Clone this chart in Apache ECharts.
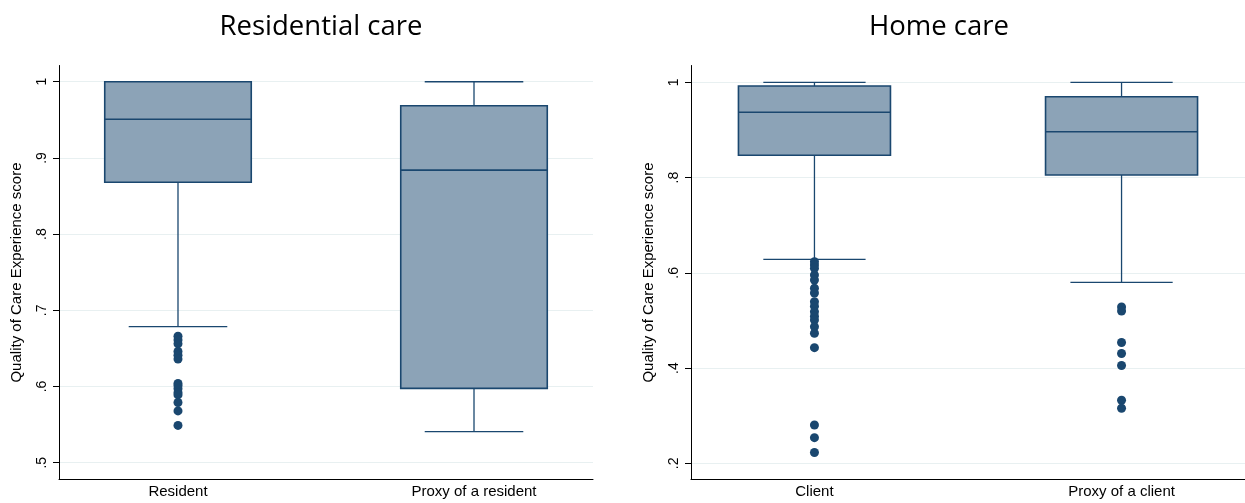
<!DOCTYPE html>
<html>
<head>
<meta charset="utf-8">
<script src="https://cdn.jsdelivr.net/npm/echarts@6/dist/echarts.min.js"></script>
<style>html,body{margin:0;padding:0;background:#fff}#c{width:1245px;height:503px}</style>
</head>
<body>
<div id="c"></div>
<script>
// ---- data ----
var residentialCats = ['Resident', 'Proxy of a resident'];
var homeCats = ['Client', 'Proxy of a client'];
// [min whisker, Q1, median, Q3, max whisker]
var residentBox = [0.6785, 0.868, 0.9507, 1.0, 1.0];
var residentProxyBox = [0.5407, 0.5976, 0.884, 0.9685, 1.0];
var clientBox = [0.6283, 0.8467, 0.937, 0.9922, 1.0];
var clientProxyBox = [0.580, 0.8054, 0.8963, 0.9698, 1.0];
var residentOutliers = [0.666, 0.661, 0.656, 0.646, 0.641, 0.636, 0.604, 0.601, 0.597, 0.592, 0.589, 0.579, 0.568, 0.549];
var residentProxyOutliers = [];
var clientOutliers = [0.6233, 0.6164, 0.6094, 0.5954, 0.5849, 0.5675, 0.5576, 0.5393, 0.530, 0.5183, 0.509, 0.5009, 0.4868, 0.473, 0.4428, 0.2804, 0.2538, 0.2227];
var clientProxyOutliers = [0.5282, 0.5198, 0.4536, 0.4305, 0.4054, 0.3323, 0.3155];
var residentialTicks = [0.5, 0.6, 0.7, 0.8, 0.9, 1];
var homeTicks = [0.2, 0.4, 0.6, 0.8, 1];
var yName = 'Quality of Care Experience score';
var titles = ['Residential care', 'Home care'];

// ---- styles ----
var NAVY = '#1a476f';
var FILL = '#8ca3b7';
var GRIDC = '#e8f0f1';
var FONT = '"Liberation Sans", Arial, sans-serif';

function boxData(boxes) {
  return boxes.map(function (b, i) { return [i + 1].concat(b); });
}
function outlierData(lists) {
  var out = [];
  lists.forEach(function (l, i) { l.forEach(function (v) { out.push([i + 1, v]); }); });
  return out;
}
function renderBox(params, api) {
  var x = api.value(0);
  var lo = api.coord([x, api.value(1)]);
  var q1 = api.coord([x, api.value(2)]);
  var md = api.coord([x, api.value(3)]);
  var q3 = api.coord([x, api.value(4)]);
  var hi = api.coord([x, api.value(5)]);
  var bw = api.size([0.495, 0])[0];
  var cw = api.size([0.333, 0])[0];
  var cx = lo[0];
  var ls = { stroke: NAVY, lineWidth: 1.3, fill: null };
  return {
    type: 'group',
    children: [
      { type: 'line', shape: { x1: cx, y1: q3[1], x2: cx, y2: hi[1] }, style: ls },
      { type: 'line', shape: { x1: cx, y1: q1[1], x2: cx, y2: lo[1] }, style: ls },
      { type: 'line', shape: { x1: cx - cw / 2, y1: hi[1], x2: cx + cw / 2, y2: hi[1] }, style: ls },
      { type: 'line', shape: { x1: cx - cw / 2, y1: lo[1], x2: cx + cw / 2, y2: lo[1] }, style: ls },
      { type: 'rect', shape: { x: cx - bw / 2, y: q3[1], width: bw, height: q1[1] - q3[1] },
        style: { fill: FILL, stroke: NAVY, lineWidth: 1.6 } },
      { type: 'line', shape: { x1: cx - bw / 2, y1: md[1], x2: cx + bw / 2, y2: md[1] },
        style: { stroke: NAVY, lineWidth: 1.6 } }
    ]
  };
}
function yAxisCfg(gi, mn, mx, ticks) {
  return {
    type: 'value', gridIndex: gi, min: mn, max: mx,
    name: yName, nameLocation: 'middle', nameRotate: 90, nameGap: 35,
    nameTextStyle: { fontFamily: FONT, fontSize: 15, color: '#000' },
    axisLine: { show: true, lineStyle: { color: '#000', width: 1 } },
    axisTick: { show: true, length: 6, customValues: ticks, lineStyle: { color: '#000' } },
    axisLabel: { customValues: ticks, rotate: 90, margin: 10, fontFamily: FONT, fontSize: 14, color: '#000',
      formatter: function (v) { return String(+v.toFixed(2)).replace(/^0/, ''); } },
    splitLine: { show: true, lineStyle: { color: GRIDC, width: 1 } }
  };
}
function xAxisCfg(gi, cats) {
  return {
    type: 'value', gridIndex: gi, min: 0.598, max: 2.402,
    axisLine: { show: true, onZero: false, lineStyle: { color: '#000', width: 1 } },
    axisTick: { show: false },
    splitLine: { show: false },
    axisLabel: { customValues: [1, 2], margin: 5, fontFamily: FONT, fontSize: 15, color: '#000',
      formatter: function (v) { return cats[Math.round(v) - 1]; } }
  };
}

var TITLE_STYLE = { fontFamily: '"Open Sans", sans-serif', fontSize: 27.5, fontWeight: 'normal', color: '#000' };
var chart = echarts.init(document.getElementById('c'));
chart.setOption({
  backgroundColor: '#fff',
  animation: false,
  title: [
    { text: titles[0], left: 316, top: 8, textAlign: 'center', textStyle: TITLE_STYLE },
    { text: titles[1], left: 934, top: 8, textAlign: 'center', textStyle: TITLE_STYLE }
  ],
  grid: [
    { left: 59, top: 65.5, width: 534, bottom: 23.5 },
    { left: 691, top: 65.5, width: 562, bottom: 23.5 }
  ],
  xAxis: [xAxisCfg(0, residentialCats), xAxisCfg(1, homeCats)],
  yAxis: [yAxisCfg(0, 0.478, 1.0213, residentialTicks), yAxisCfg(1, 0.166, 1.0353, homeTicks)],
  series: [
    { type: 'custom', xAxisIndex: 0, yAxisIndex: 0, renderItem: renderBox,
      data: boxData([residentBox, residentProxyBox]), z: 2 },
    { type: 'scatter', xAxisIndex: 0, yAxisIndex: 0, symbolSize: 9, itemStyle: { color: NAVY, opacity: 1 },
      data: outlierData([residentOutliers, residentProxyOutliers]), z: 3 },
    { type: 'custom', xAxisIndex: 1, yAxisIndex: 1, renderItem: renderBox,
      data: boxData([clientBox, clientProxyBox]), z: 2 },
    { type: 'scatter', xAxisIndex: 1, yAxisIndex: 1, symbolSize: 9, itemStyle: { color: NAVY, opacity: 1 },
      data: outlierData([clientOutliers, clientProxyOutliers]), z: 3 }
  ]
});
</script>
</body>
</html>
